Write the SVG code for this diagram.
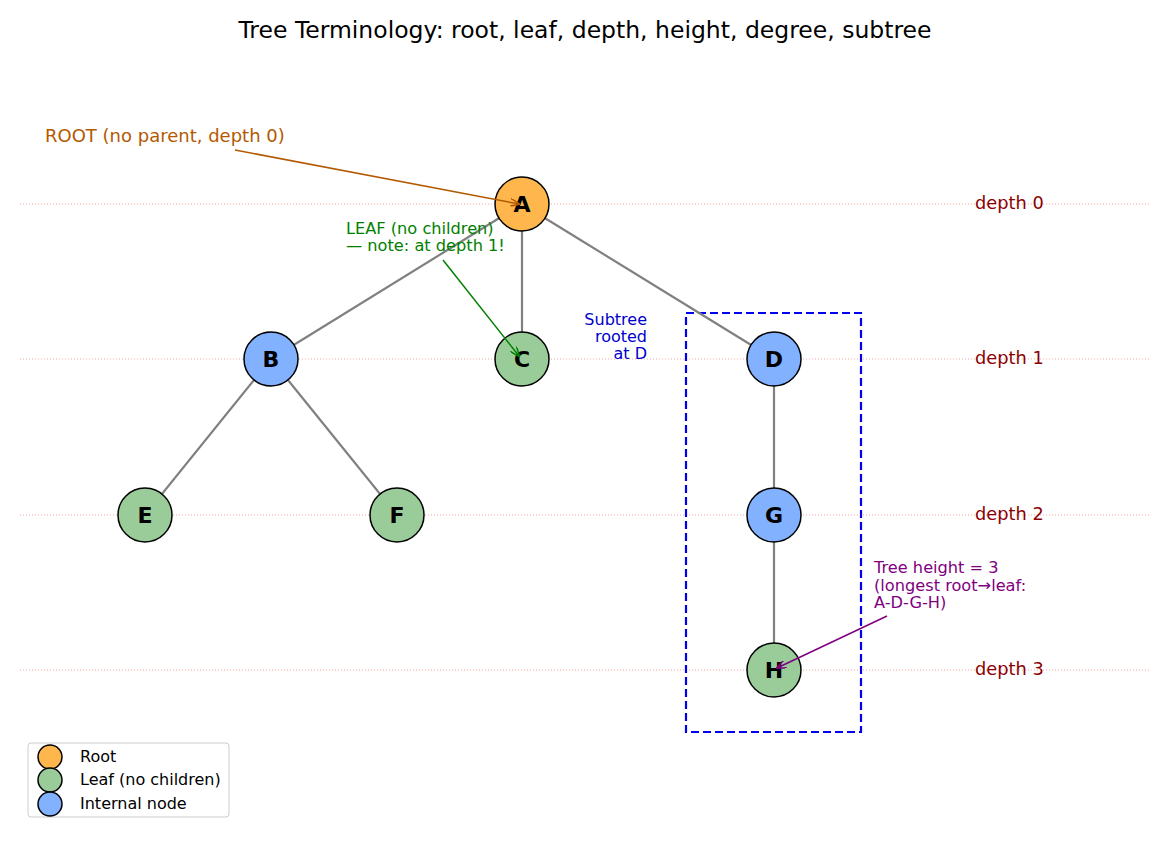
<svg xmlns="http://www.w3.org/2000/svg" width="1170" height="845" viewBox="0 0 1170 845">
<defs>
<style>
text{font-family:"DejaVu Sans","Liberation Sans",sans-serif}
.dl{stroke:#f08080;stroke-width:0.7;stroke-dasharray:1,2}
.dt{fill:#8b0000;font-size:17.8px}
.e{stroke:#808080;stroke-width:2.2}
.n{stroke:#000;stroke-width:1.5}
.nl{font-size:22px;font-weight:bold;text-anchor:middle;fill:#000}
.root{fill:#ffb74d}.leaf{fill:#99cc99}.int{fill:#82b1ff}
</style>
<marker id="aO" markerWidth="10" markerHeight="8" refX="9" refY="4" orient="auto" markerUnits="userSpaceOnUse"><path d="M0,0 L10,4 L0,8" fill="none" stroke="#b35900" stroke-width="1.5"/></marker>
<marker id="aG" markerWidth="10" markerHeight="8" refX="9" refY="4" orient="auto" markerUnits="userSpaceOnUse"><path d="M0,0 L10,4 L0,8" fill="none" stroke="#008000" stroke-width="1.5"/></marker>
<marker id="aP" markerWidth="10" markerHeight="8" refX="9" refY="4" orient="auto" markerUnits="userSpaceOnUse"><path d="M0,0 L10,4 L0,8" fill="none" stroke="#800080" stroke-width="1.5"/></marker>
</defs>
<rect width="1170" height="845" fill="#fff"/>
<text x="585" y="38" font-size="23.5" text-anchor="middle">Tree Terminology: root, leaf, depth, height, degree, subtree</text>
<g id="depth-lines">
<line class="dl" x1="20" y1="204" x2="1150" y2="204"/>
<line class="dl" x1="20" y1="359" x2="1150" y2="359"/>
<line class="dl" x1="20" y1="515" x2="1150" y2="515"/>
<line class="dl" x1="20" y1="670" x2="1150" y2="670"/>
<text class="dt" x="975" y="209">depth 0</text>
<text class="dt" x="975" y="364">depth 1</text>
<text class="dt" x="975" y="520">depth 2</text>
<text class="dt" x="975" y="675">depth 3</text>
</g>
<g id="subtree-box">
<rect x="686" y="313" width="175" height="419" fill="none" stroke="#0000ee" stroke-width="2.2" stroke-dasharray="8,4"/>
<text x="647" y="325" font-size="16" fill="#0000cc" text-anchor="end">Subtree</text>
<text x="647" y="342" font-size="16" fill="#0000cc" text-anchor="end">rooted</text>
<text x="647" y="359" font-size="16" fill="#0000cc" text-anchor="end">at D</text>
</g>
<g id="connectors">
<line class="e" x1="522" y1="204" x2="271" y2="359"/>
<line class="e" x1="522" y1="204" x2="522" y2="359"/>
<line class="e" x1="522" y1="204" x2="774" y2="359"/>
<line class="e" x1="271" y1="359" x2="145" y2="515"/>
<line class="e" x1="271" y1="359" x2="397" y2="515"/>
<line class="e" x1="774" y1="359" x2="774" y2="515"/>
<line class="e" x1="774" y1="515" x2="774" y2="670"/>
</g>
<g id="node-A"><circle class="n root" cx="522" cy="204" r="27"/><text class="nl" x="522" y="212">A</text></g>
<g id="node-B"><circle class="n int" cx="271" cy="359" r="27"/><text class="nl" x="271" y="367">B</text></g>
<g id="node-C"><circle class="n leaf" cx="522" cy="359" r="27"/><text class="nl" x="522" y="367">C</text></g>
<g id="node-D"><circle class="n int" cx="774" cy="359" r="27"/><text class="nl" x="774" y="367">D</text></g>
<g id="node-E"><circle class="n leaf" cx="145" cy="515" r="27"/><text class="nl" x="145" y="523">E</text></g>
<g id="node-F"><circle class="n leaf" cx="397" cy="515" r="27"/><text class="nl" x="397" y="523">F</text></g>
<g id="node-G"><circle class="n int" cx="774" cy="515" r="27"/><text class="nl" x="774" y="523">G</text></g>
<g id="node-H"><circle class="n leaf" cx="774" cy="670" r="27"/><text class="nl" x="774" y="678">H</text></g>
<g id="annotations">
<text x="45" y="142" font-size="18" fill="#b35900">ROOT (no parent, depth 0)</text>
<line x1="235" y1="150" x2="519" y2="204" stroke="#b35900" stroke-width="1.5" marker-end="url(#aO)"/>
<text x="346" y="234" font-size="16.2" fill="#008000">LEAF (no children)</text>
<text x="346" y="251" font-size="16.2" fill="#008000">— note: at depth 1!</text>
<line x1="443" y1="260" x2="519" y2="356" stroke="#008000" stroke-width="1.5" marker-end="url(#aG)"/>
<text x="874" y="573" font-size="16.2" fill="#800080">Tree height = 3</text>
<text x="874" y="591" font-size="16.2" fill="#800080">(longest root→leaf:</text>
<text x="874" y="608" font-size="16.2" fill="#800080">A-D-G-H)</text>
<line x1="887" y1="616" x2="777" y2="668" stroke="#800080" stroke-width="1.5" marker-end="url(#aP)"/>
</g>
<g id="legend">
<rect x="28" y="743" width="201" height="74" rx="3" fill="#fff" stroke="#cccccc" stroke-width="1"/>
<circle class="n root" cx="50" cy="757" r="12"/>
<circle class="n leaf" cx="50" cy="780" r="12"/>
<circle class="n int" cx="50" cy="804" r="12"/>
<text x="80" y="762" font-size="16" fill="#000">Root</text>
<text x="80" y="785" font-size="16" fill="#000">Leaf (no children)</text>
<text x="80" y="809" font-size="16" fill="#000">Internal node</text>
</g>
</svg>
